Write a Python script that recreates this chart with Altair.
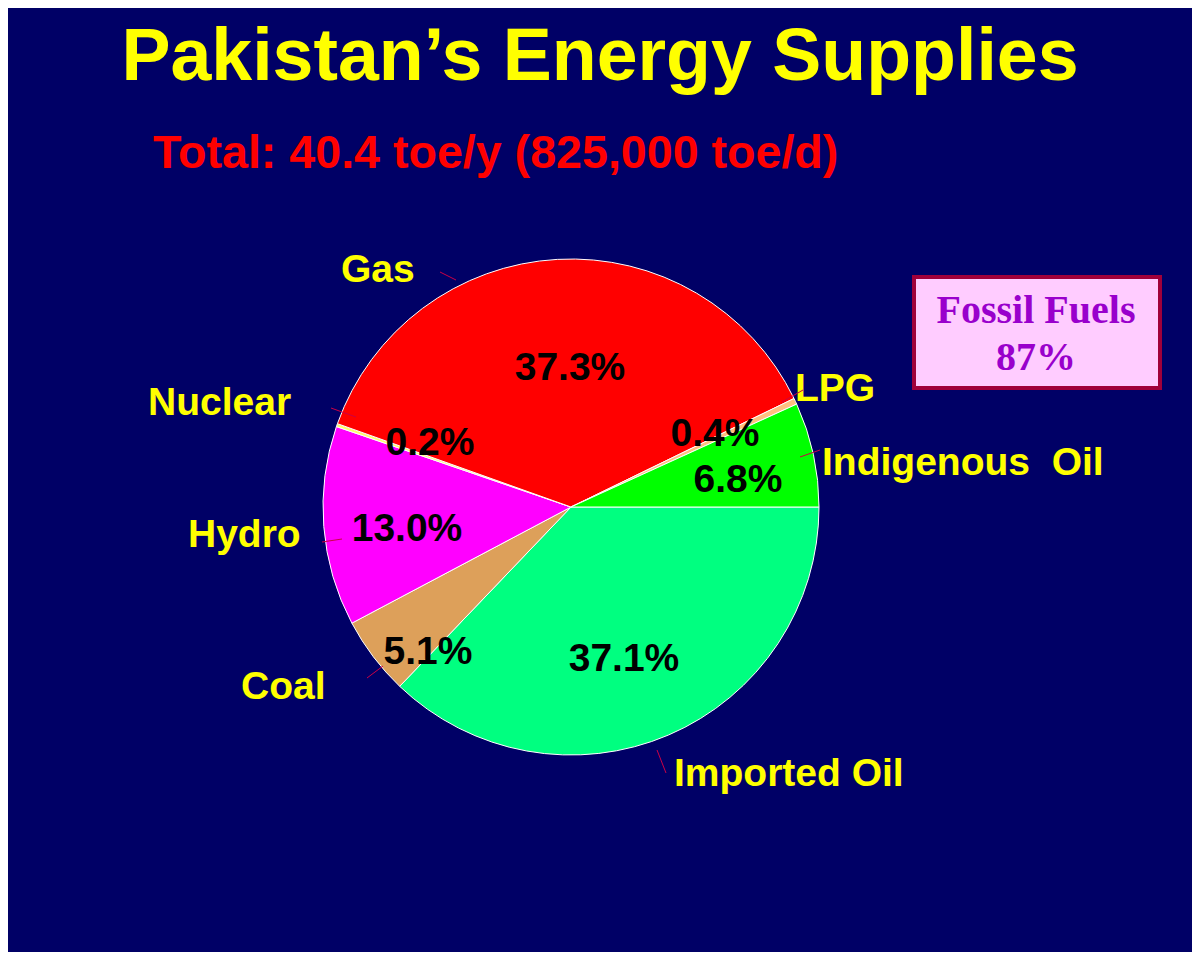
import math
import altair as alt
import pandas as pd

# ---- data ----
categories = ["Imported Oil", "Coal", "Hydro", "Nuclear", "Gas", "LPG", "Indigenous Oil"]
shares = [37.1, 5.1, 13.0, 0.2, 37.3, 0.4, 6.8]
palette = ["#00FF80", "#DDA05A", "#FF00FF", "#FFFF66", "#FF0000", "#FFC080", "#00FF00"]

title_text = "Pakistan\u2019s Energy Supplies"
subtitle_text = "Total: 40.4 toe/y (825,000 toe/d)"
box_line1 = "Fossil Fuels"
box_line2 = "87%"

df = pd.DataFrame({"category": categories, "share": shares, "idx": list(range(len(categories)))})
one = pd.DataFrame({"k": [0]})

OFF = 8  # page margin: chart coords = reference px - 8
def px(v):
    return v - OFF

CX, CY, R = px(571), px(507), 248
SANS = "Liberation Sans"
SERIF = "Liberation Serif"
LBL = 39

base = alt.Chart(df)

pie = base.mark_arc(outerRadius=R, stroke="white", strokeWidth=1).encode(
    theta=alt.Theta("share:Q", stack=True,
                    scale=alt.Scale(range=[math.pi / 2, math.pi / 2 + 2 * math.pi])),
    color=alt.Color("category:N", scale=alt.Scale(domain=categories, range=palette), legend=None),
    order=alt.Order("idx:Q"),
    x=alt.value(CX),
    y=alt.value(CY),
)

layers = [pie]

# percentage labels (layout positions: center x, baseline y in reference px)
pct_pos = {
    "Imported Oil": (624, 671),
    "Coal": (428, 664),
    "Hydro": (407, 541),
    "Nuclear": (430, 455),
    "Gas": (570, 380),
    "LPG": (715, 446),
    "Indigenous Oil": (738, 492),
}
for cat, (x, y) in pct_pos.items():
    layers.append(
        base.transform_filter(alt.datum.category == cat)
        .transform_calculate(label="format(datum.share, '.1f') + '%'")
        .mark_text(font=SANS, fontSize=LBL, fontWeight="bold", color="black",
                   align="center", baseline="alphabetic")
        .encode(x=alt.value(px(x)), y=alt.value(px(y)), text="label:N")
    )

# category labels (left x, baseline y)
cat_pos = {
    "Gas": (341, 282),
    "Nuclear": (148, 415),
    "Hydro": (188, 547),
    "Coal": (241, 699),
    "Imported Oil": (674, 786),
    "LPG": (795, 401),
    "Indigenous Oil": (822, 475),
}
for cat, (x, y) in cat_pos.items():
    layers.append(
        base.transform_filter(alt.datum.category == cat)
        .transform_calculate(shown="replace(datum.category, 'Indigenous Oil', 'Indigenous\u00a0\u00a0Oil')")
        .mark_text(font=SANS, fontSize=LBL, fontWeight="bold", color="#FFFF00",
                   align="left", baseline="alphabetic")
        .encode(x=alt.value(px(x)), y=alt.value(px(y)), text="shown:N")
    )

# leader lines
leaders = [
    ((440, 272), (456, 280)),
    ((331, 408), (356, 417)),
    ((322, 542), (342, 539)),
    ((367, 678), (383, 666)),
    ((657, 750), (666, 773)),
    ((782, 402), (803, 390)),
    ((800, 457), (820, 450)),
]
for (x1, y1), (x2, y2) in leaders:
    layers.append(
        alt.Chart(one).mark_rule(color="#CC0044", strokeWidth=1).encode(
            x=alt.value(px(x1)), y=alt.value(px(y1)),
            x2=alt.value(px(x2)), y2=alt.value(px(y2)))
    )

# titles
layers.append(
    alt.Chart(one).mark_text(text=title_text, font=SANS, fontSize=73.5, fontWeight="bold",
                             color="#FFFF00", align="center", baseline="alphabetic")
    .encode(x=alt.value(px(600)), y=alt.value(px(80)))
)
layers.append(
    alt.Chart(one).mark_text(text=subtitle_text, font=SANS, fontSize=46.6, fontWeight="bold",
                             color="#FF0000", align="left", baseline="alphabetic")
    .encode(x=alt.value(px(153)), y=alt.value(px(168)))
)

# fossil fuels box
layers.append(
    alt.Chart(one).mark_rect(fill="#FFCCFF", stroke="#A0003A", strokeWidth=4).encode(
        x=alt.value(px(914)), x2=alt.value(px(1160)),
        y=alt.value(px(277)), y2=alt.value(px(388)))
)
layers.append(
    alt.Chart(one).mark_text(text=box_line1, font=SERIF, fontSize=40, fontWeight="bold",
                             color="#9900CC", align="center", baseline="alphabetic")
    .encode(x=alt.value(px(1036)), y=alt.value(px(323)))
)
layers.append(
    alt.Chart(one).mark_text(text=box_line2, font=SERIF, fontSize=40, fontWeight="bold",
                             color="#9900CC", align="center", baseline="alphabetic")
    .encode(x=alt.value(px(1036)), y=alt.value(px(370)))
)

chart = alt.layer(*layers).properties(
    width=1184,
    height=944,
    autosize=alt.AutoSizeParams(type="none"),
    padding=0,
    background="#000066",
).configure_view(stroke=None)

chart.save("out.html", embed_options={"renderer": "svg", "actions": False})
